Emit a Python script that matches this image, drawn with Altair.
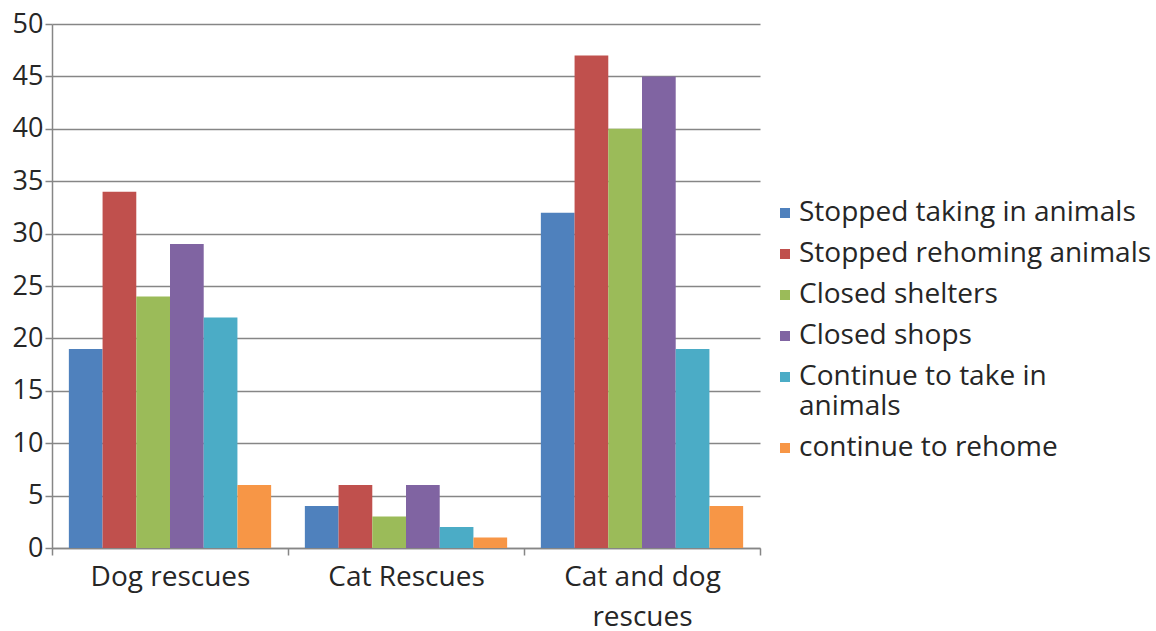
import altair as alt
import pandas as pd

categories = ["Dog rescues", "Cat Rescues", "Cat and dog rescues"]
series = [
    "Stopped taking in animals",
    "Stopped rehoming animals",
    "Closed shelters",
    "Closed shops",
    "Continue to take in animals",
    "continue to rehome",
]
values = {
    "Stopped taking in animals": [19, 4, 32],
    "Stopped rehoming animals": [34, 6, 47],
    "Closed shelters": [24, 3, 40],
    "Closed shops": [29, 6, 45],
    "Continue to take in animals": [22, 2, 19],
    "continue to rehome": [6, 1, 4],
}
colors = ["#4F81BD", "#C0504D", "#9BBB59", "#8064A2", "#4BACC6", "#F79646"]
y_ticks = list(range(0, 51, 5))

rows = []
for s in series:
    for c, v in zip(categories, values[s]):
        rows.append({"category": c, "series": s, "value": v})
df = pd.DataFrame(rows)

FONT = "Open Sans"
TEXT = "#262626"
GRID = "#868686"

x_label_expr = (
    "datum.value == 'Cat and dog rescues' ? ['Cat and dog', 'rescues'] : datum.value"
)
legend_label_expr = (
    "datum.value == 'Continue to take in animals' ? "
    "['Continue to take in', 'animals'] : datum.value"
)

chart = (
    alt.Chart(df)
    .mark_bar()
    .encode(
        x=alt.X(
            "category:N",
            sort=categories,
            scale=alt.Scale(paddingInner=0, paddingOuter=0),
            axis=alt.Axis(
                title=None,
                labelAngle=0,
                labelExpr=x_label_expr,
                labelFont=FONT,
                labelFontSize=28,
                labelColor=TEXT,
                labelPadding=8,
                labelLineHeight=40,
                labelBaseline="top",
                tickBand="extent",
                tickSize=7,
                tickColor=GRID,
                tickWidth=1.5,
                domainColor=GRID,
                domainWidth=1.5,
                grid=False,
            ),
        ),
        xOffset=alt.XOffset(
            "series:N",
            sort=series,
            scale=alt.Scale(paddingInner=0, paddingOuter=0.5),
        ),
        y=alt.Y(
            "value:Q",
            scale=alt.Scale(domain=[0, 50], nice=False),
            axis=alt.Axis(
                title=None,
                values=y_ticks,
                labelFont=FONT,
                labelFontSize=27,
                labelColor=TEXT,
                labelPadding=2,
                tickSize=7,
                tickColor=GRID,
                tickWidth=1.5,
                domainColor=GRID,
                domainWidth=1.5,
                gridColor=GRID,
                gridWidth=1.5,
            ),
        ),
        color=alt.Color(
            "series:N",
            sort=series,
            scale=alt.Scale(domain=series, range=colors),
            legend=alt.Legend(
                title=None,
                orient="none",
                legendX=719,
                legendY=175,
                symbolType="square",
                symbolSize=100,
                symbolStrokeWidth=0,
                labelFont=FONT,
                labelFontSize=28,
                labelColor=TEXT,
                labelExpr=legend_label_expr,
                labelOffset=0,
                labelLimit=420,
                rowPadding=13,
                padding=0,
            ),
        ),
    )
    .properties(width=708, height=524)
    .configure_view(stroke=None)
    .properties(
        autosize=alt.AutoSizeParams(type="none"),
        padding={"left": 52, "top": 24, "right": 396, "bottom": 83},
        background="white",
    )
)

chart.save("out.html", embed_options={"renderer": "svg", "actions": False})
